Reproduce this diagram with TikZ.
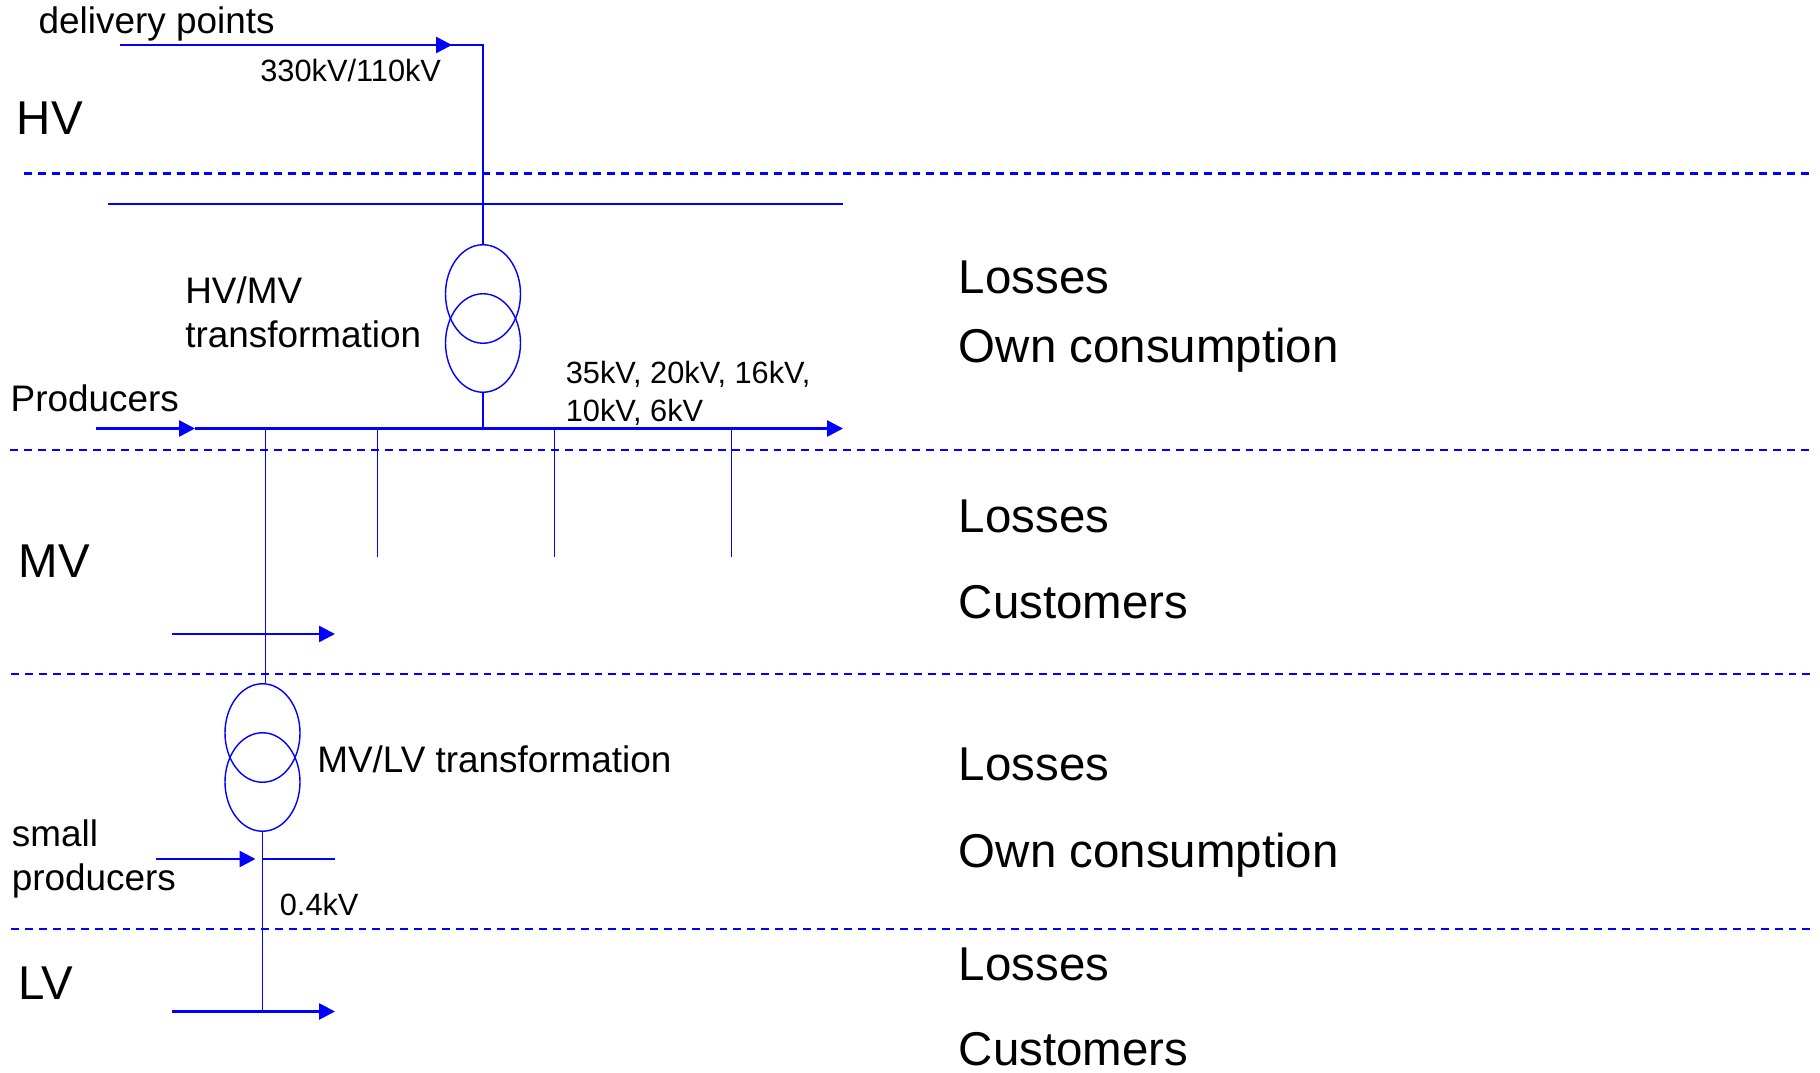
\documentclass[tikz,border=0pt]{standalone}
\usepackage{fontspec}
\setmainfont{Liberation Sans}
\usepackage{tikz}
\usetikzlibrary{arrows.meta}
\usetikzlibrary{shapes.geometric}

\definecolor{netblue}{RGB}{0,0,255}

\tikzset{
	wire/.style={netblue, line width=0.8pt},
	flow/.style={netblue, line width=1.5pt, -{Triangle[length=9pt, width=9pt]}},
	level/.style={netblue, line width=1.2pt, dash pattern=on 4.5pt off 3.4pt},
	winding/.style={draw=netblue, line width=0.8pt, ellipse, minimum width=1.5cm, minimum height=1.97cm, inner sep=0},
	bigtext/.style={anchor=base west, inner sep=0, font=\fontsize{27}{32}\selectfont},
	midtext/.style={anchor=base west, inner sep=0, align=left, font=\fontsize{21}{25.3}\selectfont},
	smalltext/.style={anchor=base west, inner sep=0, align=left, font=\fontsize{17.5}{21.7}\selectfont},
}

\begin{document}
\begin{tikzpicture}
	\useasboundingbox (0, 0) rectangle (36.4, 21.44);

	\draw[level] (0.48, 17.97) -- (36.21, 17.97);
	\draw[level] (0.20, 12.44) -- (36.21, 12.44);
	\draw[level] (0.23, 7.965) -- (36.21, 7.965);
	\draw[level] (0.23, 2.86) -- (36.21, 2.86);

	\node[winding] (hvtop) at (9.66, 15.56) {};
	\node[winding] (hvbot) at (9.66, 14.58) {};
	\node[winding] (mvtop) at (5.25, 6.78) {};
	\node[winding] (mvbot) at (5.25, 5.80) {};

	\coordinate (delstart) at (2.40, 20.54);
	\coordinate (delmid) at (6.04, 20.54);
	\coordinate (deltip) at (9.04, 20.54);
	\coordinate (delcorner) at (9.66, 20.54);
	\draw[wire] (delstart) -- (delcorner) -- (hvtop.north);
	\draw[flow] (delmid) -- (deltip);

	\coordinate (hvbusW) at (2.16, 17.36);
	\coordinate (hvbusE) at (16.85, 17.36);
	\draw[wire, line width=1pt] (hvbusW) -- (hvbusE);

	\coordinate (prodstart) at (1.92, 12.87);
	\coordinate (prodtip) at (3.90, 12.87);
	\coordinate (mvbusE) at (16.86, 12.87);
	\draw[flow] (prodstart) -- (prodtip);
	\draw[flow] (prodtip) -- (mvbusE);
	\draw[wire] (hvbot.south) -- (hvbot.south |- mvbusE);

	\foreach \fx in {7.55, 11.09, 14.63}
		\draw[wire] (\fx, 12.87) -- (\fx, 10.30);
	\coordinate (mvfeed) at (5.31, 12.87);
	\draw[wire] (mvfeed) -- (mvfeed |- mvtop.north);
	\draw[flow] (3.44, 8.76) -- (6.70, 8.76);

	\coordinate (lvtap) at (5.25, 4.26);
	\coordinate (lvend) at (5.25, 1.21);
	\draw[wire] (mvbot.south) -- (lvend);
	\draw[flow] (3.12, 4.26) -- (5.11, 4.26);
	\draw[wire] (lvtap) -- (6.70, 4.26);
	\draw[flow] (3.44, 1.21) -- (6.70, 1.21);

	\node[midtext] (delivery) at (0.767, 20.773) {delivery points};
	\node[smalltext] (hvratio) at (5.2, 19.807) {330kV/110kV};
	\node[bigtext] (hvlabel) at (0.33, 18.74) {HV};
	\node[midtext] (hvmvlabel) at (3.70, 14.487) {HV/MV\\transformation};
	\node[midtext] (producers) at (0.207, 13.207) {Producers};
	\node[smalltext] (mvlevels) at (11.31, 13.007) {35kV, 20kV, 16kV,\\10kV, 6kV};
	\node[bigtext] (mvlabel) at (0.37, 9.89) {MV};
	\node[midtext] (mvlvlabel) at (6.34, 6.0) {MV/LV transformation};
	\node[midtext] (smallprod) at (0.23, 3.624) {small\\producers};
	\node[smalltext] (lvratio) at (5.59, 3.14) {0.4kV};
	\node[bigtext] (lvlabel) at (0.37, 1.46) {LV};

	\node[bigtext] (hvloss) at (19.17, 15.573) {Losses};
	\node[bigtext] (hvown) at (19.17, 14.19) {Own consumption};
	\node[bigtext] (mvloss) at (19.17, 10.792) {Losses};
	\node[bigtext] (mvcust) at (19.17, 9.074) {Customers};
	\node[bigtext] (tfloss) at (19.17, 5.824) {Losses};
	\node[bigtext] (tfown) at (19.17, 4.09) {Own consumption};
	\node[bigtext] (lvloss) at (19.17, 1.84) {Losses};
	\node[bigtext] (lvcust) at (19.17, 0.126) {Customers};
\end{tikzpicture}
\end{document}
